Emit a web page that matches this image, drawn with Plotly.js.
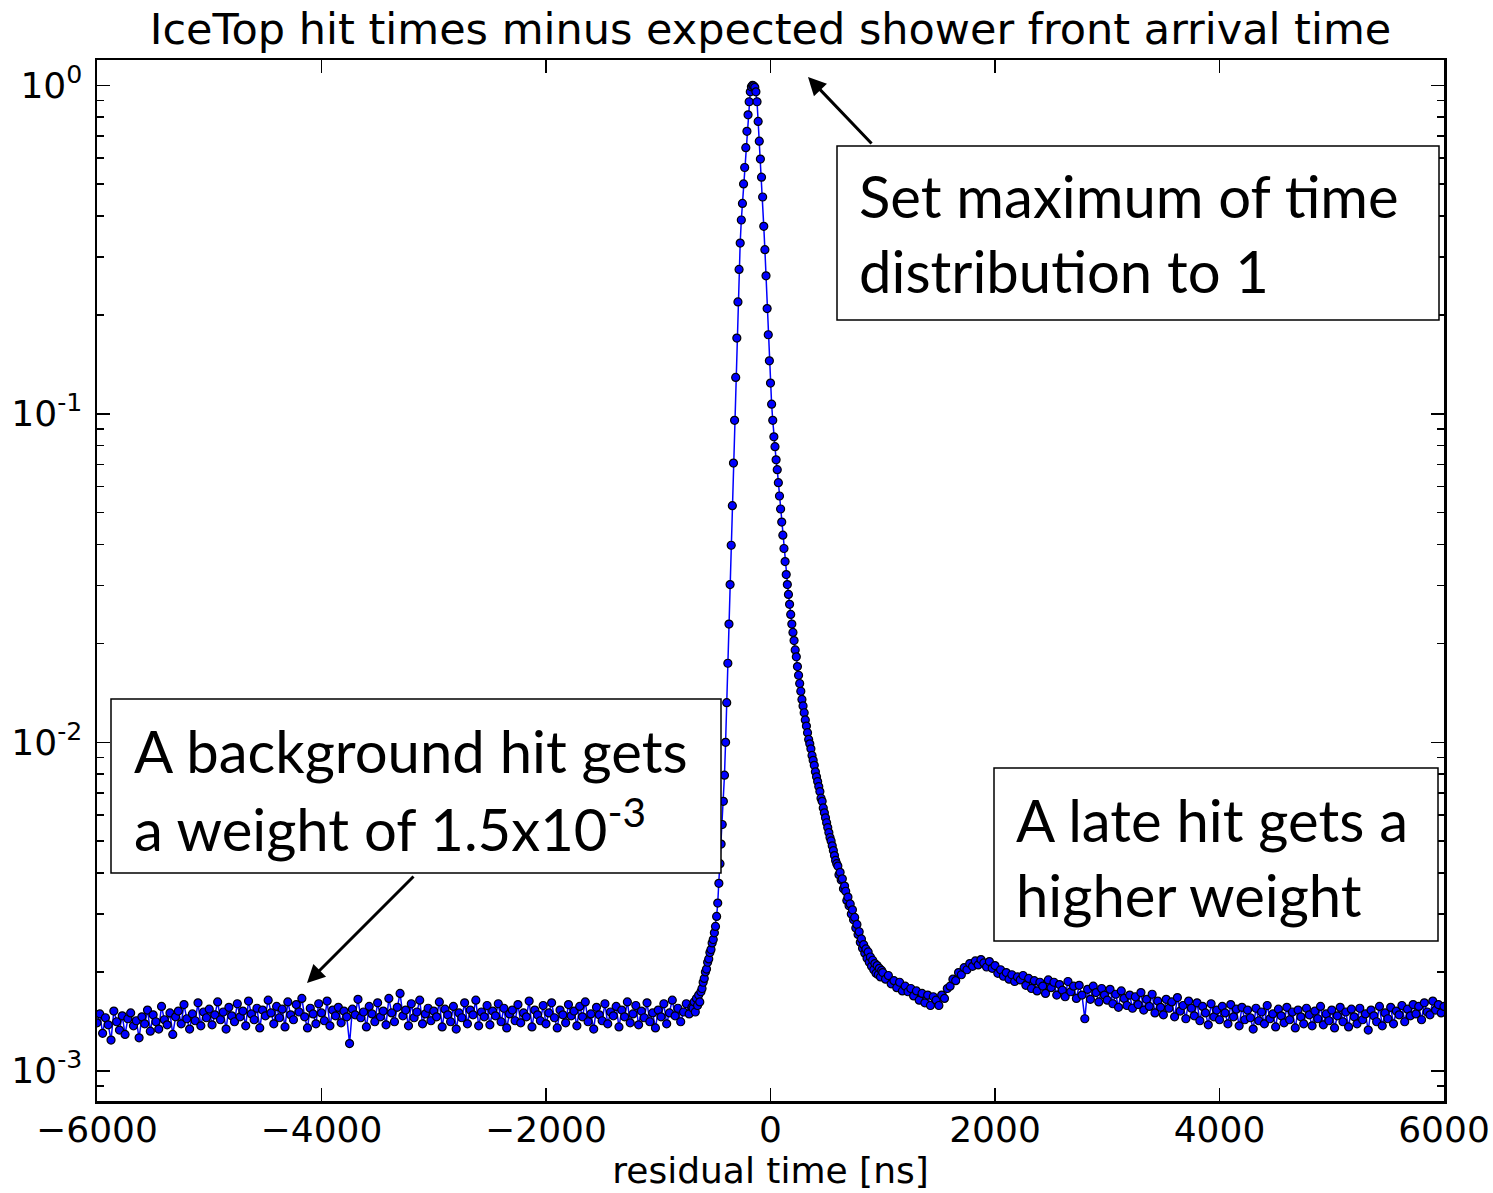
<!DOCTYPE html>
<html><head><meta charset="utf-8">
<script src="https://cdn.plot.ly/plotly-3.0.1.min.js"></script>
<style>html,body{margin:0;padding:0;background:#fff}#chart{width:1493px;height:1193px}</style>
</head><body><div id="chart"></div>
<script>
// Flat background before the peak (bins every 25 ns)
const leftStart = -6000, leftStep = 25;
const leftValues = [
 0.00140,0.00149,0.00130,0.00145,0.00138,0.00124,0.00152,0.00141,0.00133,0.00147,
 0.00129,0.00144,0.00150,0.00137,0.00142,0.00126,0.00146,0.00139,0.00153,0.00132,
 0.00148,0.00141,0.00134,0.00157,0.00143,0.00138,0.00150,0.00129,0.00146,0.00152,
 0.00139,0.00159,0.00144,0.00134,0.00149,0.00142,0.00161,0.00137,0.00151,0.00145,
 0.00154,0.00138,0.00148,0.00162,0.00143,0.00151,0.00134,0.00156,0.00147,0.00141,
 0.00160,0.00146,0.00152,0.00137,0.00163,0.00149,0.00143,0.00155,0.00135,0.00153,
 0.00147,0.00164,0.00150,0.00139,0.00157,0.00145,0.00154,0.00136,0.00162,0.00148,
 0.00143,0.00159,0.00151,0.00166,0.00146,0.00135,0.00155,0.00149,0.00139,0.00160,
 0.00150,0.00142,0.00163,0.00137,0.00153,0.00147,0.00156,0.00140,0.00152,0.00146,
 0.00121,0.00154,0.00148,0.00165,0.00145,0.00151,0.00136,0.00157,0.00149,0.00141,
 0.00161,0.00146,0.00152,0.00138,0.00166,0.00150,0.00141,0.00156,0.00172,0.00147,
 0.00153,0.00137,0.00160,0.00145,0.00151,0.00164,0.00139,0.00149,0.00155,0.00142,
 0.00152,0.00146,0.00162,0.00136,0.00154,0.00148,0.00141,0.00157,0.00134,0.00150,
 0.00145,0.00161,0.00139,0.00153,0.00148,0.00164,0.00137,0.00151,0.00146,0.00158,
 0.00138,0.00152,0.00147,0.00160,0.00141,0.00155,0.00135,0.00149,0.00153,0.00142,
 0.00159,0.00140,0.00150,0.00146,0.00163,0.00136,0.00153,0.00148,0.00142,0.00158,
 0.00139,0.00150,0.00161,0.00145,0.00135,0.00153,0.00148,0.00140,0.00159,0.00147,
 0.00152,0.00137,0.00157,0.00146,0.00162,0.00141,0.00149,0.00134,0.00156,0.00148,
 0.00142,0.00160,0.00139,0.00151,0.00147,0.00157,0.00136,0.00153,0.00146,0.00162,
 0.00140,0.00149,0.00158,0.00138,0.00152,0.00145,0.00161,0.00141,0.00150,0.00135,
 0.00153,0.00146,0.00160,0.00139,0.00150,0.00164,0.00147,0.00155,0.00141,0.00151,
 0.00160,0.00149,0.00156
];
// Peak region (bins every 10 ns)
const peakStart = -690, peakStep = 10;
const peakValues = [
 0.00155,0.00162,0.00151,0.00166,0.00158,0.00170,0.00162,0.00174,0.00178,0.00186,
 0.00191,0.00200,0.00204,0.00214,0.00219,0.00229,0.00234,0.00245,0.00251,0.00263,
 0.00275,0.00295,0.00324,0.00372,0.00427,0.00490,0.00562,0.00661,0.00794,0.0100,
 0.0132,0.0174,0.0229,0.0302,0.0398,0.0525,0.0708,0.0955,0.129,0.170,
 0.219,0.275,0.331,0.389,0.437,0.501,0.562,0.646,0.724,0.813,
 0.891,0.955,0.989,1.0,0.995,0.986,0.955,0.891,0.776,0.676,
 0.596,0.525,0.457,0.372,0.316,0.263,0.209,0.174,0.145,0.124,
 0.107,0.0955,0.0851,0.0794,0.0724,0.0676,0.0617,0.0562,0.0513,0.0468,
 0.0427,0.0389,0.0355,0.0324,0.0302,0.0282,0.0263,0.0245,0.0229,0.0216,
 0.0204,0.0191,0.0182,0.0170,0.0160,0.0151,0.0143,0.0135,0.0129,0.0123,
 0.0117,0.0112,0.0107,0.0102,0.00989,0.00955,0.00912,0.00881,0.00851,0.00813,
 0.00785,0.00759,0.00733,0.00708,0.00676,0.00661,0.00631,0.00610,0.00589,0.00569,
 0.00550,0.00531,0.00513,0.00501,0.00484,0.00468,0.00452,0.00437,0.00427,0.00420,
 0.00395,0.00402,0.00381,0.00384,0.00358,0.00365,0.00352,0.00330,0.00338,0.00318,
 0.00322,0.00300,0.00309,0.00288,0.00293,0.00272,0.00279,0.00260,0.00265,0.00246,
 0.00252,0.00236,0.00242,0.00228,0.00235,0.00220,0.00230,0.00214,0.00222,0.00208,
 0.00217,0.00203,0.00212,0.00198,0.00209,0.00196,0.00205,0.00193,0.00202
];
// Late tail with the bump near 1900 ns (bins every 25 ns)
const tailStart = 1000, tailStep = 25;
const tailValues = [
 0.00199,0.00190,0.00195,0.00184,0.00188,0.00179,0.00186,0.00175,0.00181,0.00174,
 0.00178,0.00169,0.00175,0.00164,0.00172,0.00161,0.00170,0.00158,0.00168,0.00164,
 0.00158,0.00170,0.00166,0.00178,0.00181,0.00190,0.00188,0.00199,0.00196,0.00206,
 0.00203,0.00212,0.00208,0.00216,0.00210,0.00218,0.00213,0.00207,0.00215,0.00205,
 0.00209,0.00198,0.00203,0.00194,0.00199,0.00190,0.00196,0.00187,0.00193,0.00189,
 0.00195,0.00182,0.00191,0.00178,0.00188,0.00175,0.00186,0.00181,0.00172,0.00189,
 0.00179,0.00186,0.00170,0.00183,0.00176,0.00168,0.00187,0.00174,0.00181,0.00166,
 0.00182,0.00170,0.00144,0.00177,0.00165,0.00181,0.00173,0.00162,0.00178,0.00170,
 0.00164,0.00177,0.00160,0.00171,0.00156,0.00175,0.00166,0.00158,0.00170,0.00155,
 0.00168,0.00159,0.00173,0.00153,0.00165,0.00157,0.00171,0.00150,0.00163,0.00156,
 0.00148,0.00165,0.00155,0.00162,0.00146,0.00167,0.00152,0.00158,0.00144,0.00163,
 0.00155,0.00147,0.00161,0.00142,0.00157,0.00150,0.00138,0.00160,0.00146,0.00153,
 0.00143,0.00157,0.00150,0.00139,0.00159,0.00146,0.00154,0.00137,0.00156,0.00143,
 0.00153,0.00145,0.00134,0.00155,0.00142,0.00151,0.00139,0.00158,0.00144,0.00149,
 0.00136,0.00154,0.00147,0.00140,0.00156,0.00143,0.00151,0.00135,0.00153,0.00146,
 0.00139,0.00155,0.00148,0.00137,0.00152,0.00144,0.00157,0.00138,0.00149,0.00142,
 0.00153,0.00135,0.00147,0.00156,0.00141,0.00151,0.00136,0.00154,0.00146,0.00139,
 0.00155,0.00143,0.00149,0.00133,0.00153,0.00147,0.00141,0.00157,0.00137,0.00150,
 0.00144,0.00156,0.00139,0.00152,0.00148,0.00158,0.00141,0.00154,0.00147,0.00159,
 0.00149,0.00157,0.00143,0.00161,0.00151,0.00148,0.00163,0.00153,0.00159,0.00150,
 0.00157
];
const xTickVals = [-6000,-4000,-2000,0,2000,4000,6000];
const yTickVals = [0.001,0.01,0.1,1];
const yTickText = ['10<sup>-3</sup>','10<sup>-2</sup>','10<sup>-1</sup>','10<sup>0</sup>'];
const yMinorVals = [0.0009,
 0.002,0.003,0.004,0.005,0.006,0.007,0.008,0.009,
 0.02,0.03,0.04,0.05,0.06,0.07,0.08,0.09,
 0.2,0.3,0.4,0.5,0.6,0.7,0.8,0.9];

const xs = [], ys = [];
function addSeg(start, step, vals){ vals.forEach((v,i)=>{ xs.push(start + i*step); ys.push(v); }); }
addSeg(leftStart, leftStep, leftValues);
addSeg(peakStart, peakStep, peakValues);
addSeg(tailStart, tailStep, tailValues);

const L = 97, R = 49, T = 60, B = 92, W = 1493, H = 1193;
const PW = W - L - R, PH = H - T - B;
const px = x => (x - L) / PW;
const py = y => (H - B - y) / PH;

const annFont = {family: 'Lato', size: 58, color: '#000'};
function textLine(text, left, baseline){
  return {xref:'paper', yref:'paper', x: px(left), y: py(baseline - 22), xanchor:'left', yanchor:'middle',
    text: text, showarrow:false, font: annFont, align:'left'};
}
function box(l, t, r, b){
  return {type:'rect', xref:'paper', yref:'paper', x0: px(l), x1: px(r), y0: py(b), y1: py(t),
    line:{color:'#000', width:1.5}, fillcolor:'#fff', layer:'above'};
}
function arrow(hx, hy, tx, ty){
  return {xref:'paper', yref:'paper', x: px(hx), y: py(hy), ax: tx - hx, ay: ty - hy, text:'',
    showarrow:true, arrowhead:2, arrowsize:1.2, arrowwidth:3, arrowcolor:'#000', standoff:0, startstandoff:0};
}

const tickFont = {family:'DejaVu Sans', size:36, color:'#000'};
const layout = {
  width: W, height: H,
  margin: {l:L, r:R, t:T, b:B},
  paper_bgcolor:'#fff', plot_bgcolor:'#fff',
  showlegend:false,
  title: {text:'IceTop hit times minus expected shower front arrival time',
    font:{family:'DejaVu Sans', size:43, color:'#000'}, x:0.5, xref:'paper', y: 1 - 29/H, yref:'container', yanchor:'middle'},
  xaxis: {range:[-6000,6000], tickmode:'array', tickvals:xTickVals, ticks:'inside', ticklen:13, tickwidth:1.5, tickcolor:'#000',
    showline:true, linecolor:'#000', linewidth:2.5, mirror:'ticks', showgrid:false, zeroline:false,
    ticklabelstandoff:-5,
    tickfont:tickFont, title:{text:'residual time [ns]', font:tickFont, standoff:8}},
  yaxis: {type:'log', range:[-3.092, 0.077], tickmode:'array', tickvals:yTickVals, ticktext:yTickText,
    ticks:'inside', ticklen:13, tickwidth:1.5, tickcolor:'#000',
    minor:{tickmode:'array', tickvals:yMinorVals, ticks:'inside', ticklen:7, tickwidth:1.5, tickcolor:'#000', showgrid:false},
    showline:true, linecolor:'#000', linewidth:2.5, mirror:'ticks', showgrid:false, zeroline:false,
    ticklabelstandoff:5,
    tickfont:tickFont},
  shapes: [ box(837,146,1439,320), box(111,699,721,873), box(994,768,1438,941) ],
  annotations: [
    textLine('Set maximum of time', 857, 217),
    textLine('distribution to 1', 857, 292),
    textLine('A background hit gets', 132, 772),
    textLine('a weight of 1.5x10<sup>-3</sup>', 132, 847),
    textLine('A late hit gets a', 1014, 841),
    textLine('higher weight', 1014, 916),
    arrow(808, 77, 873, 145),
    arrow(307, 983, 415, 875)
  ]
};
const trace = {x: xs, y: ys, type:'scatter', mode:'lines+markers',
  line:{color:'#0000ff', width:1.5},
  marker:{size:8, color:'#0000ff', line:{color:'#000', width:1.2}}};
Plotly.newPlot('chart', [trace], layout, {displayModeBar:false, staticPlot:true});
</script></body></html>
